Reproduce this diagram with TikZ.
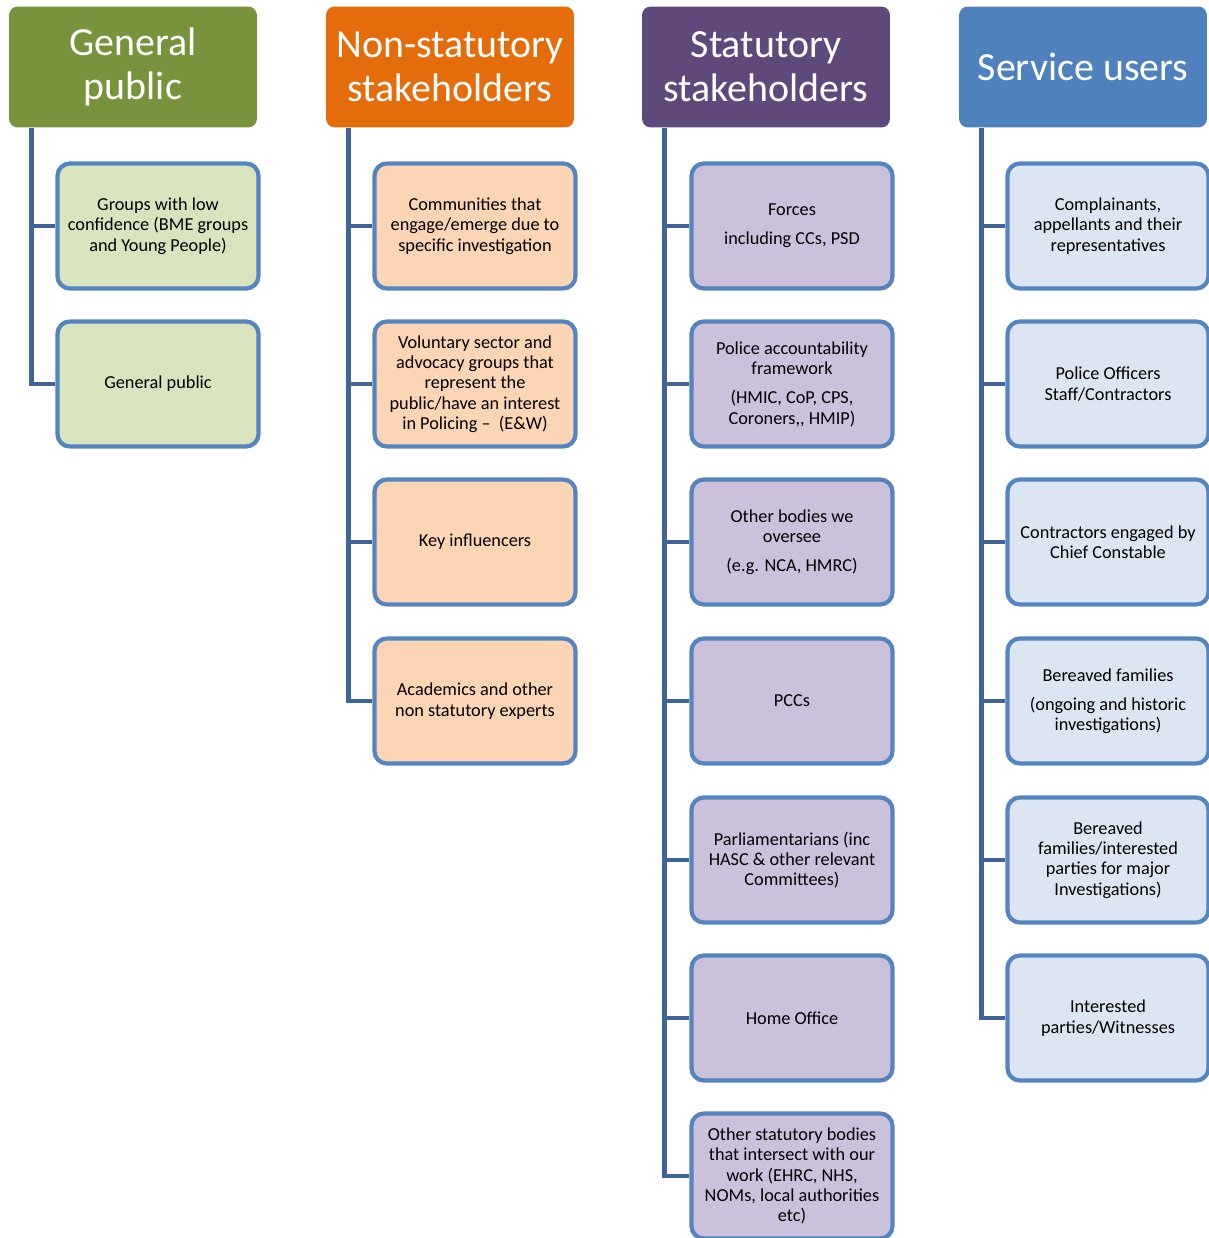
\documentclass[tikz,border=0pt]{standalone}
\usepackage{fontspec}
\setmainfont{Carlito}
\usetikzlibrary{positioning}
\definecolor{gpgreen}{HTML}{77933C}
\definecolor{nsorange}{HTML}{E46C0A}
\definecolor{stpurple}{HTML}{5F497A}
\definecolor{subblue}{HTML}{4F81BD}
\definecolor{gplight}{HTML}{D7E4BD}
\definecolor{nslight}{HTML}{FCD5B5}
\definecolor{stlight}{HTML}{CCC1DA}
\definecolor{sulight}{HTML}{DCE6F2}
\definecolor{itemedge}{HTML}{5585C0}
\definecolor{trunkblue}{HTML}{3F6598}
\begin{document}
\begin{tikzpicture}[x=0.02cm,y=-0.02cm]
  \tikzset{
      head/.style={fill=#1,rounded corners=5pt,text=white,inner sep=0pt,
          minimum width=4.96cm,minimum height=2.42cm,align=center,
          font=\fontsize{22.7}{25}\selectfont},
      item/.style={fill=#1,draw=itemedge,line width=2.4pt,rounded corners=7pt,
          inner sep=0pt,minimum width=4.02cm,minimum height=2.5cm,
          align=center,font=\fontsize{10.4}{11.6}\selectfont},
      trunk/.style={draw=trunkblue,line width=2.6pt}
  }
  \clip (0,0) rectangle (1209,1238);
  % headers
  \node[head=gpgreen]  (hg) at (133,67)  {General\\public};
  \node[head=nsorange] (hn) at (450,67)  {Non-statutory\\stakeholders};
  \node[head=stpurple] (hs) at (766,67)  {Statutory\\stakeholders};
  \node[head=subblue]  (hu) at (1083,67) {Service users};
  % general public
  \node[item=gplight] (g1) at (158,226) {Groups with low\\confidence (BME groups\\and Young People)};
  \node[item=gplight] (g2) at (158,384) {General public};
  % non-statutory
  \node[item=nslight] (n1) at (475,226) {Communities that\\engage/emerge due to\\specific investigation};
  \node[item=nslight] (n2) at (475,384) {Voluntary sector and\\advocacy groups that\\represent the\\public/have an interest\\in Policing \textendash\ \ (E\&W)};
  \node[item=nslight] (n3) at (475,542) {Key influencers};
  \node[item=nslight] (n4) at (475,701) {Academics and other\\non statutory experts};
  % statutory
  \node[item=stlight] (s1) at (792,226) {Forces\\[5pt]including CCs, PSD};
  \node[item=stlight] (s2) at (792,384) {Police accountability\\framework\\[5pt](HMIC, CoP, CPS,\\Coroners,{},{} HMIP)};
  \node[item=stlight] (s3) at (792,542) {Other bodies we\\oversee\\[5pt](e.g. NCA, HMRC)};
  \node[item=stlight] (s4) at (792,701) {PCCs};
  \node[item=stlight] (s5) at (792,860) {Parliamentarians (inc\\HASC \& other relevant\\Committees)};
  \node[item=stlight] (s6) at (792,1018) {Home Office};
  \node[item=stlight] (s7) at (792,1176) {Other statutory bodies\\that intersect with our\\work (EHRC, NHS,\\NOMs, local authorities\\etc)};
  % service users
  \node[item=sulight] (u1) at (1108,226) {Complainants,\\appellants and their\\representatives};
  \node[item=sulight] (u2) at (1108,384) {Police Officers\\Staff/Contractors};
  \node[item=sulight] (u3) at (1108,542) {Contractors engaged by\\Chief Constable};
  \node[item=sulight] (u4) at (1108,701) {Bereaved families\\[5pt](ongoing and historic\\investigations)};
  \node[item=sulight] (u5) at (1108,860) {Bereaved\\families/interested\\parties for major\\Investigations)};
  \node[item=sulight] (u6) at (1108,1018) {Interested\\parties/Witnesses};
  % trunks
  \path (hg.south west) ++(23,0) coordinate (tg);
  \path (hn.south west) ++(23,0) coordinate (tn);
  \path (hs.south west) ++(23,0) coordinate (ts);
  \path (hu.south west) ++(23,0) coordinate (tu);
  \foreach \n in {g1,g2} \draw[trunk] (tg) |- (\n.west);
  \foreach \n in {n1,n2,n3,n4} \draw[trunk] (tn) |- (\n.west);
  \foreach \n in {s1,s2,s3,s4,s5,s6,s7} \draw[trunk] (ts) |- (\n.west);
  \foreach \n in {u1,u2,u3,u4,u5,u6} \draw[trunk] (tu) |- (\n.west);
\end{tikzpicture}
\end{document}
